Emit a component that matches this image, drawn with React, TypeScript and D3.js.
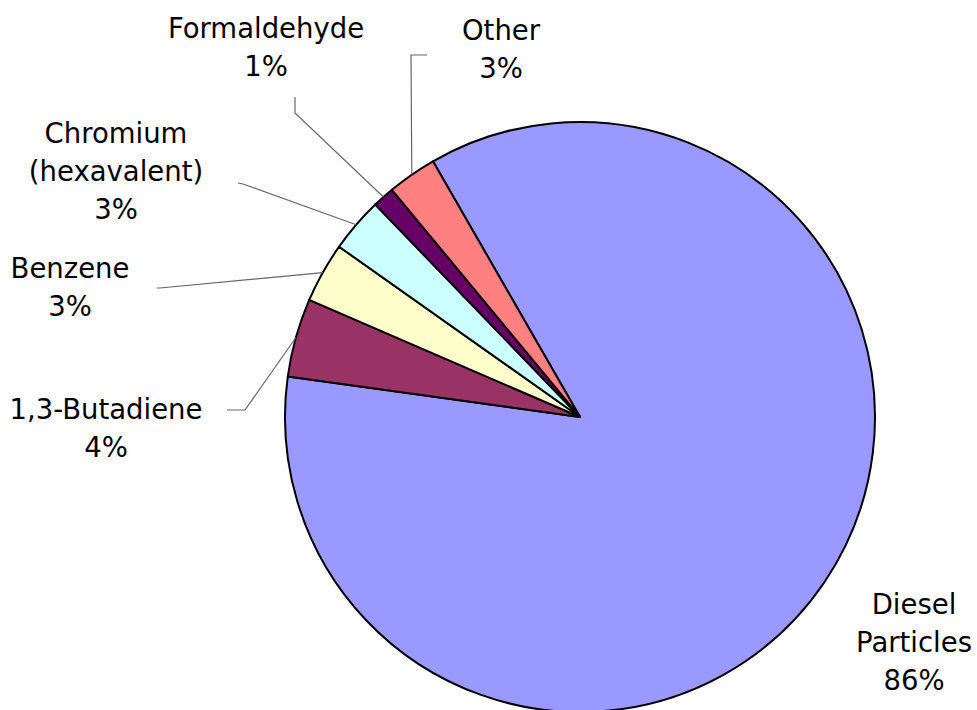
import * as d3 from "d3";
import React from "react";

// slice order as in the source sheet (Excel draws clockwise)
const categories = [
  "Diesel Particles",
  "1,3-Butadiene",
  "Benzene",
  "Chromium (hexavalent)",
  "Formaldehyde",
  "Other",
];
const values = [85.5, 4.3, 3.3, 3.0, 1.2, 2.7];
const labelLines = [
  ["Diesel", "Particles"],
  ["1,3-Butadiene"],
  ["Benzene"],
  ["Chromium", "(hexavalent)"],
  ["Formaldehyde"],
  ["Other"],
];
const colors = ["#9999FF", "#993366", "#FFFFCC", "#CCFFFF", "#660066", "#FF8080"];

const width = 977;
const height = 710;
const cx = 580;
const cy = 417;
const radius = 295;
const firstSliceAngle = -29.9; // degrees

const fontSize = 27.5;
const lineHeight = 38;

// hand-placed label boxes (text centre x, first baseline y) and leader line elbows
const labelLayout: { x: number; y: number; leader: [number, number][] }[] = [
  { x: 914, y: 614, leader: [] },
  { x: 106, y: 419, leader: [[227, 410], [245, 410]] },
  { x: 70, y: 278, leader: [[157, 288], [160, 288]] },
  { x: 116, y: 143, leader: [[238, 183], [243, 184]] },
  { x: 266, y: 38, leader: [[295, 97], [295, 113]] },
  { x: 501, y: 40, leader: [[427, 55], [411, 55]] },
];

const App = (): React.ReactElement => {
  const total = d3.sum(values);
  const pie = d3
    .pie<number>()
    .sort(null)
    .value((d) => d)
    .startAngle((firstSliceAngle * Math.PI) / 180)
    .endAngle((firstSliceAngle * Math.PI) / 180 + 2 * Math.PI);
  const arcs = pie(values);
  const arc = d3.arc<d3.PieArcDatum<number>>().innerRadius(0).outerRadius(radius);

  const edgePoint = (a: d3.PieArcDatum<number>): [number, number] => {
    const mid = (a.startAngle + a.endAngle) / 2;
    return [cx + radius * Math.sin(mid), cy - radius * Math.cos(mid)];
  };
  const line = d3.line();

  return (
    <svg
      width={width}
      height={height}
      style={{ position: "absolute", left: 0, top: 0, background: "#fff" }}
      fontFamily="'DejaVu Sans', Verdana, sans-serif"
      fontSize={fontSize}
    >
      <g transform={`translate(${cx},${cy})`}>
        {arcs.map((a, i) => (
          <path
            key={categories[i]}
            d={arc(a) as string}
            fill={colors[i]}
            stroke="#000"
            strokeWidth={2}
            strokeLinejoin="round"
          />
        ))}
      </g>
      {arcs.map((a, i) => {
        const lay = labelLayout[i];
        if (!lay.leader.length) return null;
        const pts: [number, number][] = [...lay.leader, edgePoint(a)];
        return (
          <path
            key={"l" + i}
            d={line(pts) as string}
            fill="none"
            stroke="#666"
            strokeWidth={1.2}
          />
        );
      })}
      {arcs.map((a, i) => {
        const lay = labelLayout[i];
        const lines = [...labelLines[i], `${Math.round((a.data / total) * 100)}%`];
        return (
          <text key={"t" + i} x={lay.x} y={lay.y} textAnchor="middle" fill="#000">
            {lines.map((t, j) => (
              <tspan key={j} x={lay.x} y={lay.y + j * lineHeight}>
                {t}
              </tspan>
            ))}
          </text>
        );
      })}
    </svg>
  );
};

export default App;
